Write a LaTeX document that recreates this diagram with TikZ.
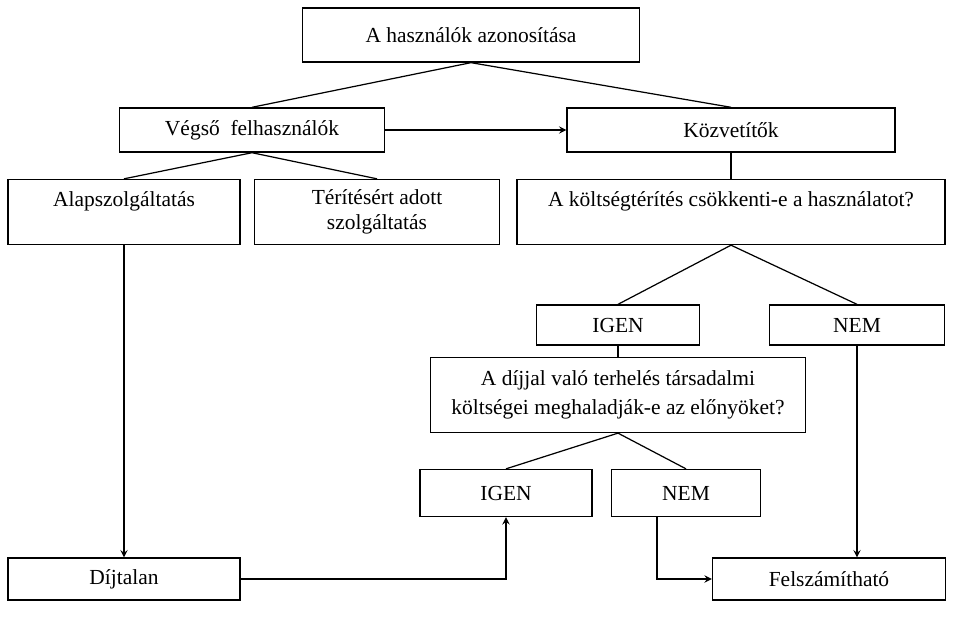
\documentclass[tikz,border=0pt]{standalone}
\usepackage{fontspec}
\setmainfont{Liberation Serif}
\usetikzlibrary{positioning}
\usetikzlibrary{arrows}

\begin{document}
\begin{tikzpicture}[x=0.0172cm, y=-0.0172cm, line width=0.6pt,
    box/.style={draw=black, inner sep=0pt, align=center, font=\fontsize{10.5}{12.5}\selectfont},
  ]
  \useasboundingbox (0,0) rectangle (953,619);

  \node [box, minimum width=5.80cm, minimum height=0.93cm] (TOP) at (471,35) {A használók azonosítása};
  \node [box, minimum width=4.56cm, minimum height=0.76cm] (VEGSO) at (252,130) {Végső \ felhasználók};
  \node [box, minimum width=5.64cm, minimum height=0.76cm] (KOZV) at (731,130) {Közvetítők};
  \node [box, minimum width=3.99cm, minimum height=1.12cm] (ALAP) at (124,212) {Alapszolgáltatás\\ \mbox{}};
  \node [box, minimum width=4.21cm, minimum height=1.12cm] (TERITES) at (377,212) {Térítésért adott\\ szolgáltatás};
  \node [box, minimum width=7.36cm, minimum height=1.12cm] (KOLTSEG) at (731,212) {A költségtérítés csökkenti-e a használatot?\\ \mbox{}};
  \node [box, minimum width=2.80cm, minimum height=0.69cm] (IGEN1) at (618,325) {IGEN};
  \node [box, minimum width=3.01cm, minimum height=0.69cm] (NEM1) at (857,325) {NEM};
  \node [box, minimum width=6.45cm, minimum height=1.29cm, font=\fontsize{10.5}{14}\selectfont] (DIJJAL) at (618,395) {A díjjal való terhelés társadalmi\\ költségei meghaladják-e az előnyöket?};
  \node [box, minimum width=2.96cm, minimum height=0.81cm] (IGEN2) at (506,493) {IGEN};
  \node [box, minimum width=2.55cm, minimum height=0.81cm] (NEM2) at (686,493) {NEM};
  \node [box, minimum width=3.99cm, minimum height=0.72cm] (DIJTALAN) at (124,579) {Díjtalan};
  \node [box, minimum width=4.01cm, minimum height=0.72cm] (FELSZ) at (829,579) {Felszámítható};

  \draw (TOP.south) -- (VEGSO.north);
  \draw (TOP.south) -- (KOZV.north);
  \draw [-stealth] (VEGSO.east) -- (KOZV.west);
  \draw (VEGSO.south) -- (ALAP.north);
  \draw (VEGSO.south) -- (TERITES.north);
  \draw (KOZV.south) -- (KOLTSEG.north);
  \draw (KOLTSEG.south) -- (IGEN1.north);
  \draw (KOLTSEG.south) -- (NEM1.north);
  \draw (IGEN1.south) -- (DIJJAL.north);
  \draw (DIJJAL.south) -- (IGEN2.north);
  \draw (DIJJAL.south) -- (NEM2.north);
  \draw [-stealth] (ALAP.south) -- (DIJTALAN.north);
  \draw [-stealth] (NEM1.south) -- (NEM1.south |- FELSZ.north);
  \draw [-stealth] ([xshift=-0.5cm]NEM2.south) |- (FELSZ.west);
  \draw [-stealth] (DIJTALAN.east) -| (IGEN2.south);

\end{tikzpicture}
\end{document}
